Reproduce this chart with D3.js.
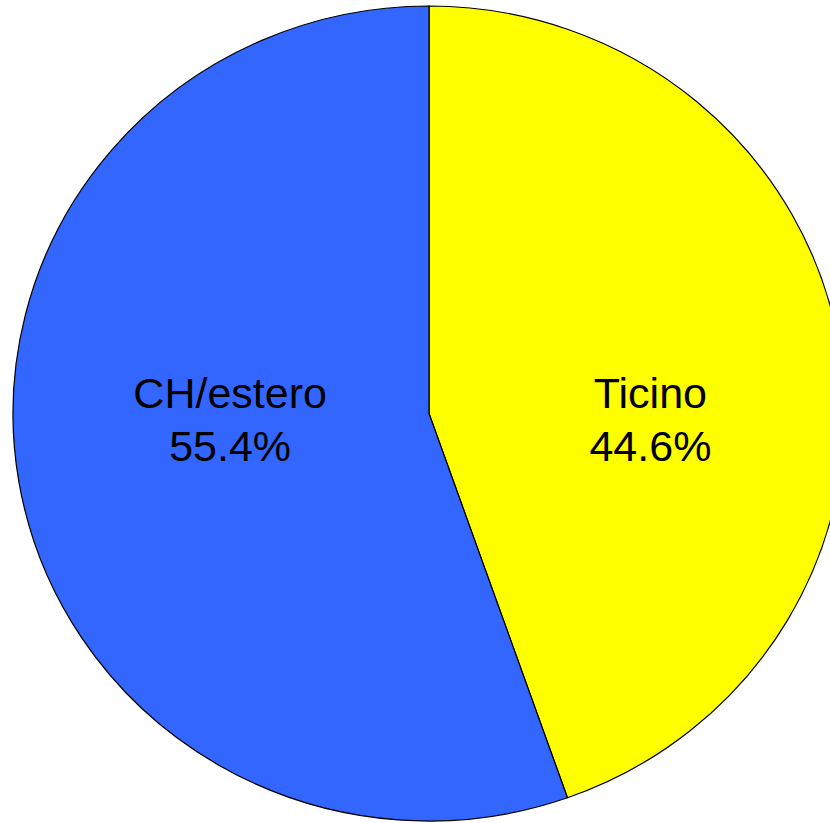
<!DOCTYPE html>
<html>
<head>
<meta charset="utf-8">
<script src="https://cdn.jsdelivr.net/npm/d3@7"></script>
<style>
  body { margin: 0; background: #fff; overflow: hidden; }
  svg { display: block; }
</style>
</head>
<body>
<div id="chart"></div>
<script>
// data
var categories = ["Ticino", "CH/estero"];
var values = [44.6, 55.4];
var colors = ["#FFFF00", "#3366FF"];

var svgWidth = 830;
var svgHeight = 823;

// pie geometry (slightly wider than tall, as in the picture)
var cx = 429, cy = 413.5;
var ry = 407.5, rx = 416;

// label placement: horizontal offset as fraction of radius, per slice
var labelFrac = [0.54, 0.485];
var labelBase = 408;
var lineGap = 53;

var svg = d3.select("#chart")
    .append("svg")
    .attr("width", svgWidth)
    .attr("height", svgHeight);

var pie = d3.pie()
    .sort(null)
    .value(function(d) { return d; });

var arcs = pie(values);

var arc = d3.arc()
    .innerRadius(0)
    .outerRadius(ry);

var pieGroup = svg.append("g")
    .attr("transform", `translate(${cx}, ${cy}) scale(${rx / ry}, 1)`);

pieGroup.selectAll("path")
    .data(arcs)
    .enter()
    .append("path")
    .attr("d", arc)
    .attr("fill", function(d, i) { return colors[i]; })
    .attr("stroke", "#000")
    .attr("stroke-width", 1.2)
    .attr("stroke-linejoin", "miter");

// labels
var labels = svg.selectAll("text.lbl")
    .data(arcs)
    .enter()
    .append("text")
    .attr("class", "lbl")
    .attr("text-anchor", "middle")
    .attr("font-family", "'Liberation Sans', Arial, sans-serif")
    .attr("font-size", "43px")
    .attr("fill", "#000")
    .attr("transform", function(d, i) {
        var mid = (d.startAngle + d.endAngle) / 2;
        var x = cx + Math.sin(mid) * rx * labelFrac[i];
        return `translate(${x}, ${labelBase})`;
    });

labels.append("tspan")
    .attr("x", 0)
    .attr("y", 0)
    .text(function(d, i) { return categories[i]; });

labels.append("tspan")
    .attr("x", 0)
    .attr("y", lineGap)
    .text(function(d) { return d.value.toFixed(1) + "%"; });
</script>
</body>
</html>
